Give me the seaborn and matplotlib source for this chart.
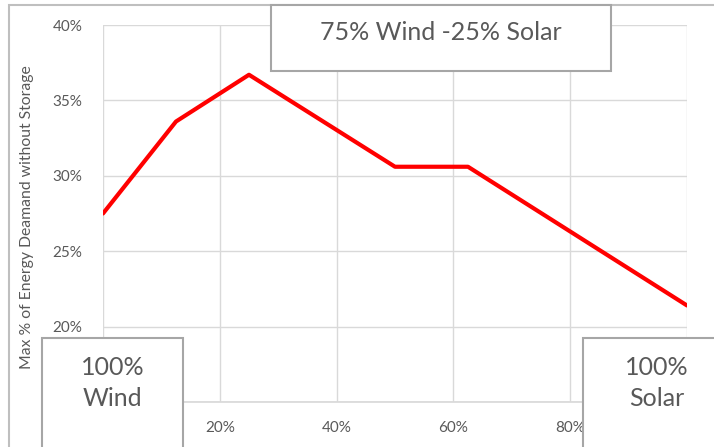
import numpy as np
import pandas as pd
import matplotlib
matplotlib.use("Agg")
import matplotlib.pyplot as plt
from matplotlib.patches import Rectangle
from matplotlib.ticker import PercentFormatter
import seaborn as sns

# data (solar share vs max share of demand met without storage)
solar_share = [0.0, 0.125, 0.25, 0.50, 0.625, 1.0]
max_demand = [0.275, 0.336, 0.367, 0.306, 0.306, 0.214]
x_ticks = [0.0, 0.2, 0.4, 0.6, 0.8, 1.0]
y_ticks = [0.15, 0.20, 0.25, 0.30, 0.35, 0.40]
y_label = "Max % of Energy Deamand without Storage"
top_note = "75% Wind -25% Solar"
left_note = "100%\nWind"
right_note = "100%\nSolar"

sns.set_theme(style="white")
plt.rcParams['font.family'] = ['Lato', 'DejaVu Sans']
grey_txt = '#595959'

df = pd.DataFrame({'solar': solar_share, 'demand': max_demand})

fig = plt.figure(figsize=(7.14, 4.47), dpi=100)
ax = fig.add_axes([103/714, 1 - 402/447, (687 - 103)/714, (402 - 25)/447])

sns.lineplot(data=df, x='solar', y='demand', ax=ax, color='#FF0000', linewidth=3.0)

ax.set_xlim(0, 1)
ax.set_ylim(0.15, 0.40)
ax.set_xticks(x_ticks)
ax.set_yticks(y_ticks)
ax.xaxis.set_major_formatter(PercentFormatter(1.0, decimals=0))
ax.yaxis.set_major_formatter(PercentFormatter(1.0, decimals=0))
ax.grid(True, color='#D9D9D9', linewidth=1.0)
ax.tick_params(axis='both', length=0, labelsize=11, labelcolor=grey_txt)
ax.tick_params(axis='x', pad=14)
ax.tick_params(axis='y', pad=15)
for s in ax.spines.values():
    s.set_visible(False)
ax.spines['bottom'].set_visible(True)
ax.spines['bottom'].set_color('#D9D9D9')
ax.set_xlabel('')
ax.set_ylabel(y_label, fontsize=11.3, color=grey_txt)
ax.yaxis.set_label_coords(-0.118, 0.49)

# outer chart border
fig.patches.append(Rectangle((9/714, -0.05), 1.1, 1 - 5/447 + 0.05, transform=fig.transFigure,
                             fill=False, edgecolor='#BFBFBF', linewidth=1.5, zorder=0))

# annotation boxes
def note_box(x0, y0, x1, y1, text, ty):
    fig.patches.append(Rectangle((x0/714, 1 - y1/447), (x1 - x0)/714, (y1 - y0)/447,
                                 transform=fig.transFigure, facecolor='white',
                                 edgecolor='#A6A6A6', linewidth=1.5, zorder=5))
    fig.text((x0 + x1)/2/714, 1 - ty/447, text, ha='center', va='center',
             fontsize=18, color=grey_txt, zorder=6, linespacing=1.4)

note_box(271, 5, 611, 71, top_note, 32)
note_box(42, 338, 183, 460, left_note, 383)
note_box(583, 338, 730, 460, right_note, 383)

fig.savefig('out.png', dpi=100)
